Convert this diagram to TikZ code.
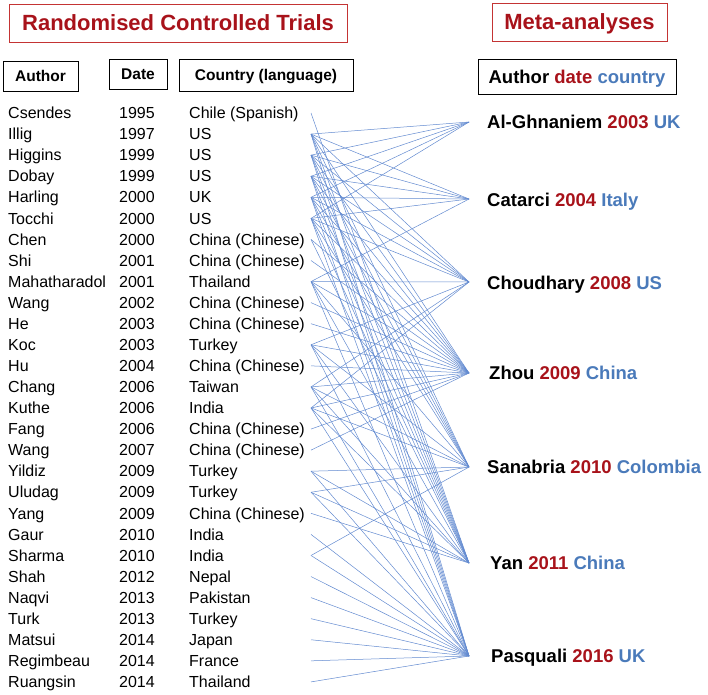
\documentclass[tikz,border=0pt]{standalone}
\usepackage{fontspec}
\setmainfont{Liberation Sans}
\usetikzlibrary{positioning}
\definecolor{titlered}{RGB}{168,18,26}
\definecolor{countryblue}{RGB}{74,122,186}
\definecolor{linkblue}{RGB}{98,138,208}
\definecolor{boxred}{RGB}{196,52,52}

\begin{document}
\begin{tikzpicture}[x=1pt,y=-1pt,
    every node/.style={font=\fontsize{16}{19}\selectfont,inner sep=0pt},
    titlebox/.style={draw=boxred,line width=.8pt,minimum height=38pt,text height=15.8pt,text depth=0pt,
      text=titlered,font=\fontsize{22}{26}\selectfont\bfseries},
    headbox/.style={draw=black,line width=.8pt,text height=11.1pt,text depth=0pt,font=\fontsize{15.5}{18}\selectfont\bfseries},
    rowtext/.style={anchor=base west},
    metalabel/.style={anchor=base west,font=\fontsize{18.5}{22}\selectfont\bfseries},
    link/.style={draw=linkblue,line width=.5pt}]
  \useasboundingbox (0,0) rectangle (708,694);
  % titles
  \node[titlebox,minimum width=338pt] (rcttitle) at (178,23) {Randomised Controlled Trials};
  \node[titlebox,minimum width=175pt] (metatitle) at (579.5,22) {Meta-analyses};
  % column heads
  \node[headbox,minimum width=75pt,minimum height=30pt] (authorhead) at (40.5,76) {Author};
  \node[headbox,minimum width=58pt,minimum height=30pt] (datehead) at (138,74) {Date};
  \node[headbox,minimum width=174pt,minimum height=32pt] (countryhead) at (266,75) {Country (language)};
  \node[headbox,minimum width=198pt,minimum height=35pt,text height=13.2pt,font=\fontsize{18.5}{22}\selectfont\bfseries]
    (metahead) at (577,76.5) {Author \textcolor{titlered}{date} \textcolor{countryblue}{country}};
  % trials
  \foreach \name/\yr/\ctry [count=\i from 0] in {Csendes/1995/Chile (Spanish),Illig/1997/US,Higgins/1999/US,
      Dobay/1999/US,Harling/2000/UK,Tocchi/2000/US,Chen/2000/China (Chinese),Shi/2001/China (Chinese),
      Mahatharadol/2001/Thailand,Wang/2002/China (Chinese),He/2003/China (Chinese),Koc/2003/Turkey,
      Hu/2004/China (Chinese),Chang/2006/Taiwan,Kuthe/2006/India,Fang/2006/China (Chinese),
      Wang/2007/China (Chinese),Yildiz/2009/Turkey,Uludag/2009/Turkey,Yang/2009/China (Chinese),
      Gaur/2010/India,Sharma/2010/India,Shah/2012/Nepal,Naqvi/2013/Pakistan,Turk/2013/Turkey,
      Matsui/2014/Japan,Regimbeau/2014/France,Ruangsin/2014/Thailand} {
    \node[rowtext] (au\i) at (8,{118.7+21.07*\i}) {\name};
    \node[rowtext] (yr\i) at (119,{118.7+21.07*\i}) {\yr};
    \node[rowtext] (ct\i) at (189,{118.7+21.07*\i}) {\ctry};
    \coordinate (t\i) at (311,{113+21.07*\i});
  }
  % meta-analyses
  \node[metalabel] (ag) at (487,128.6) {Al-Ghnaniem \textcolor{titlered}{2003} \textcolor{countryblue}{UK}};
  \node[metalabel] (ca) at (487,206.6) {Catarci \textcolor{titlered}{2004} \textcolor{countryblue}{Italy}};
  \node[metalabel] (ch) at (487,289.6) {Choudhary \textcolor{titlered}{2008} \textcolor{countryblue}{US}};
  \node[metalabel] (zh) at (489,379.6) {Zhou \textcolor{titlered}{2009} \textcolor{countryblue}{China}};
  \node[metalabel] (sa) at (487,473.6) {Sanabria \textcolor{titlered}{2010} \textcolor{countryblue}{Colombia}};
  \node[metalabel] (ya) at (490,569.6) {Yan \textcolor{titlered}{2011} \textcolor{countryblue}{China}};
  \node[metalabel] (pa) at (491,662.6) {Pasquali \textcolor{titlered}{2016} \textcolor{countryblue}{UK}};
  \coordinate (mag) at (469,122);
  \coordinate (mca) at (469,199);
  \coordinate (mch) at (469,282);
  \coordinate (mzh) at (469,373);
  \coordinate (msa) at (469,467);
  \coordinate (mya) at (469,563);
  \coordinate (mpa) at (469,656);
  % links
  \foreach \t/\m in {0/ya,
      1/ag,1/ca,1/ch,1/zh,1/sa,1/ya,1/pa, 2/ag,2/ca,2/ch,2/zh,2/sa,2/ya,2/pa,
      3/ag,3/ca,3/ch,3/zh,3/sa,3/ya,3/pa, 4/ag,4/ca,4/ch,4/zh,4/sa,4/ya,4/pa,
      5/ag,5/ca,5/ch,5/zh,5/sa,5/ya,5/pa, 6/zh,6/ya, 7/zh,
      8/ca,8/ch,8/zh,8/sa,8/ya,8/pa, 9/zh, 10/zh, 11/ch,11/zh,11/sa,11/ya,11/pa,
      12/zh, 13/ch,13/zh,13/sa,13/ya,13/pa, 14/ch,14/zh,14/sa,14/ya,14/pa, 15/zh, 16/zh,
      17/sa,17/ya,17/pa, 18/sa,18/ya,18/pa, 19/ya, 20/pa, 21/sa,21/pa,
      22/pa,23/pa,24/pa,25/pa,26/pa,27/pa}
    \draw[link] (t\t) -- (m\m);
\end{tikzpicture}
\end{document}
